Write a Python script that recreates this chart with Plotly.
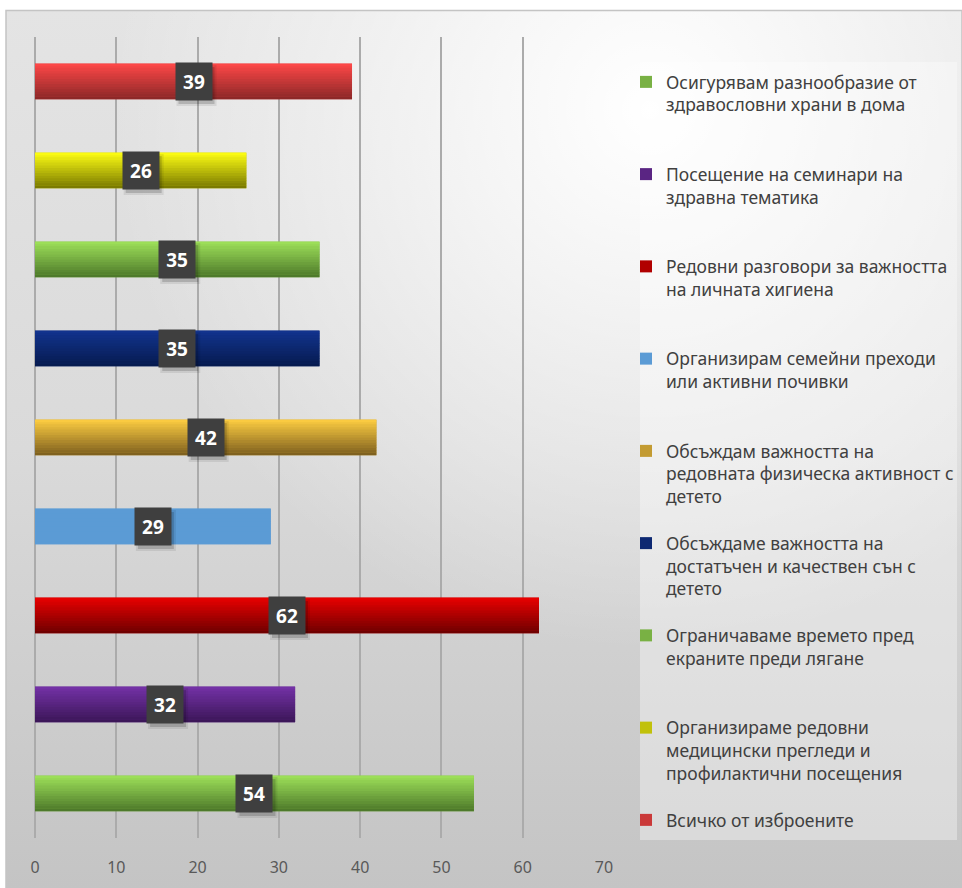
import base64
import plotly.graph_objects as go

# Categories, bottom to top on the chart (legend lists them top to bottom)
labels = [
    "Осигурявам разнообразие от здравословни храни в дома",
    "Посещение на семинари на здравна тематика",
    "Редовни разговори за важността на личната хигиена",
    "Организирам семейни преходи или активни почивки",
    "Обсъждам важността на редовната физическа активност с детето",
    "Обсъждаме важността на достатъчен и качествен сън с детето",
    "Ограничаваме времето пред екраните преди лягане",
    "Организираме редовни медицински прегледи и профилактични посещения",
    "Всичко от изброените",
]
legend_text = [
    "Осигурявам разнообразие от<br>здравословни храни в дома",
    "Посещение на семинари на<br>здравна тематика",
    "Редовни разговори за важността<br>на личната хигиена",
    "Организирам семейни преходи<br>или активни почивки",
    "Обсъждам важността на<br>редовната физическа активност с<br>детето",
    "Обсъждаме важността на<br>достатъчен и качествен сън с<br>детето",
    "Ограничаваме времето пред<br>екраните преди лягане",
    "Организираме редовни<br>медицински прегледи и<br>профилактични посещения",
    "Всичко от изброените",
]
values = [54, 32, 62, 29, 42, 35, 35, 26, 39]
x_ticks = [0, 10, 20, 30, 40, 50, 60, 70]

# bar shading: light edge on top, dark edge at the bottom
top_colors = ["#9fe25a", "#7532a8", "#ea0000", "#5b9bd5", "#ffce42",
              "#12348f", "#9fe25a", "#ffff14", "#ff4848"]
bottom_colors = ["#4b7629", "#3a1656", "#6c0000", "#5b9bd5", "#7a5d1e",
                 "#061a4e", "#4b7629", "#767600", "#892727"]

W, H = 962, 888
ML, MR, MT, MB = 35, 358, 37, 50
PW = W - ML - MR
PH = H - MT - MB


def px_x(p):
    return (p - ML) / PW


def px_y(p):
    return 1 - (p - MT) / PH


def hex_rgb(h):
    h = h.lstrip("#")
    return tuple(int(h[i:i + 2], 16) for i in (0, 2, 4))


def mix(c1, c2, t):
    a, b = hex_rgb(c1), hex_rgb(c2)
    return "rgb({},{},{})".format(*[round(a[i] + (b[i] - a[i]) * t) for i in range(3)])


BAR_W = 0.4
N_SLICES = 14

fig = go.Figure()

# one full bar per category (this is what the legend shows)
for i, (lab, name, v) in enumerate(zip(labels, legend_text, values)):
    lines = name.count("<br>") + 1
    pad = "<br>\u00a0" * max(0, 3 - lines) if i < len(labels) - 1 else ""
    fig.add_trace(go.Bar(
        x=[v], y=[lab], orientation="h", width=BAR_W,
        name=name + pad, legendgroup=f"g{i}",
        marker=dict(color=mix(top_colors[i], bottom_colors[i], 0.45), line=dict(width=0)),
        hoverinfo="skip",
    ))

# vertical shading drawn as thin stacked slices of each bar
sw = BAR_W / N_SLICES
for k in range(N_SLICES):
    t = 1 - (k + 0.5) / N_SLICES  # 0 at top, 1 at bottom
    fig.add_trace(go.Bar(
        x=values, y=labels, orientation="h",
        width=sw * 1.12, offset=-BAR_W / 2 + k * sw,
        marker=dict(color=[mix(top_colors[i], bottom_colors[i], t) for i in range(len(values))],
                    line=dict(width=0)),
        showlegend=False, hoverinfo="skip",
    ))

# soft drop shadows behind the value boxes
shapes = []
for i, v in enumerate(values):
    for grow, alpha in ((2, 0.08), (0, 0.16)):
        shapes.append(dict(
            type="rect", xref="x", yref="y",
            xsizemode="pixel", ysizemode="pixel", xanchor=v / 2, yanchor=i,
            x0=-18 + 3 - grow, x1=18 + 3 + grow, y0=-18.5 - 4 - grow, y1=18.5 - 4 + grow,
            fillcolor=f"rgba(0,0,0,{alpha})", line=dict(width=0), layer="above",
        ))

# value labels in dark boxes at the middle of each bar
annotations = []
for lab, v in zip(labels, values):
    annotations.append(dict(
        x=v / 2, y=lab, xref="x", yref="y", text=f"<b>{v}</b>", showarrow=False,
        font=dict(family="Noto Sans", size=19, color="#ffffff"),
        bgcolor="#3f3f3f", width=34, height=35, borderpad=1,
    ))

# chart-area background: grey that darkens downward with a soft light spot upper right
bg_svg = """<svg xmlns="http://www.w3.org/2000/svg" width="956" height="878" viewBox="0 0 956 878">
<defs>
<linearGradient id="v" x1="0" y1="0" x2="0" y2="1">
<stop offset="0" stop-color="#e4e4e4"/><stop offset="0.5" stop-color="#dadada"/><stop offset="1" stop-color="#c4c4c4"/>
</linearGradient>
<radialGradient id="h" gradientUnits="userSpaceOnUse" cx="644" cy="100" r="540">
<stop offset="0" stop-color="#ffffff" stop-opacity="1"/>
<stop offset="0.45" stop-color="#ffffff" stop-opacity="0.55"/>
<stop offset="1" stop-color="#ffffff" stop-opacity="0"/>
</radialGradient>
</defs>
<rect width="956" height="878" fill="url(#v)"/>
<rect width="956" height="878" fill="url(#h)"/>
</svg>"""
bg_src = "data:image/svg+xml;base64," + base64.b64encode(bg_svg.encode("utf-8")).decode("ascii")

shapes += [
    dict(type="rect", xref="paper", yref="paper",
         x0=px_x(6), x1=px_x(962), y0=px_y(888), y1=px_y(10.5),
         line=dict(color="#c4c4c4", width=1.5), fillcolor="rgba(0,0,0,0)", layer="below"),
    dict(type="rect", xref="paper", yref="paper",
         x0=px_x(640), x1=px_x(957), y0=px_y(840), y1=px_y(62),
         line=dict(width=0), fillcolor="rgba(255,255,255,0.35)", layer="below"),
]

fig.update_layout(
    width=W, height=H,
    margin=dict(l=ML, r=MR, t=MT, b=MB, pad=0, autoexpand=False),
    paper_bgcolor="#ffffff",
    plot_bgcolor="rgba(0,0,0,0)",
    barmode="overlay",
    font=dict(family="Noto Sans", color="#595959"),
    images=[dict(source=bg_src, xref="paper", yref="paper",
                 x=px_x(6), y=px_y(10), sizex=956 / PW, sizey=878 / PH,
                 xanchor="left", yanchor="top", sizing="stretch", layer="below")],
    shapes=shapes,
    annotations=annotations,
    xaxis=dict(range=[0, 70], tickvals=x_ticks, showgrid=True,
               gridcolor="#ababab", gridwidth=1.5,
               zeroline=True, zerolinecolor="#ababab", zerolinewidth=1.5,
               showline=False, ticks="", ticklabelstandoff=18,
               tickfont=dict(size=16, color="#595959"), fixedrange=True),
    yaxis=dict(type="category", categoryorder="array", categoryarray=labels,
               showticklabels=False, showgrid=False, zeroline=False,
               showline=False, ticks="", fixedrange=True),
    legend=dict(x=px_x(626), xanchor="left", y=px_y(64), yanchor="top",
                bgcolor="rgba(0,0,0,0)", borderwidth=0,
                font=dict(family="Noto Sans", size=17.5, color="#404040"),
                valign="top", traceorder="grouped", tracegroupgap=21,
                itemclick=False, itemdoubleclick=False),
    showlegend=True,
)

fig.write_html("out.html", config={"displayModeBar": False})
